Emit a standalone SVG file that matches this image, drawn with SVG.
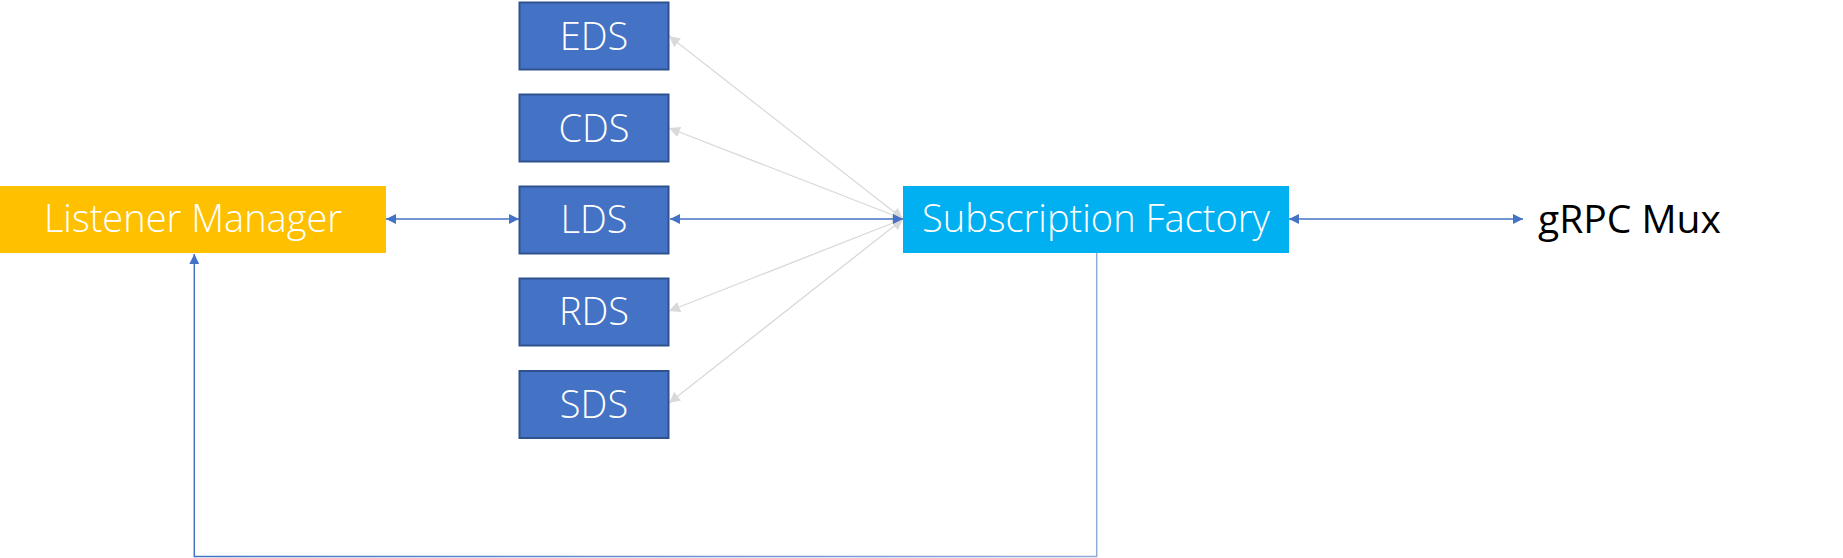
<svg xmlns="http://www.w3.org/2000/svg" width="1843" height="558" viewBox="0 0 1843 558">
<defs>
<style>
.ds rect{fill:#4472C4;stroke:#2F528F;stroke-width:2}
.lbl{font-family:"Open Sans","Noto Sans","Liberation Sans",sans-serif;font-weight:300;font-size:38px;fill:#FFFFFF;text-anchor:middle}
.blue{stroke:#4472C4;stroke-width:1.3;fill:none}
.gray{stroke:#D9D9D9;stroke-width:1.3;fill:none}
</style>
<marker id="ab" viewBox="0 0 10 10" refX="10" refY="5" markerWidth="10" markerHeight="10" markerUnits="userSpaceOnUse" orient="auto-start-reverse"><path d="M0,0 L10,5 L0,10 Z" fill="#4472C4"/></marker>
<marker id="ag" viewBox="0 0 10 10" refX="10" refY="5" markerWidth="11" markerHeight="11" markerUnits="userSpaceOnUse" orient="auto-start-reverse"><path d="M0,0 L10,5 L0,10 Z" fill="#D9D9D9"/></marker>
<linearGradient id="fb" gradientUnits="userSpaceOnUse" x1="194" y1="0" x2="1097" y2="0"><stop offset="0" stop-color="#4472C4"/><stop offset="1" stop-color="#8FAADC"/></linearGradient>
</defs>
<rect width="1843" height="558" fill="#FFFFFF"/>
<g id="connectors">
<line class="gray" x1="669" y1="36" x2="903" y2="219" marker-start="url(#ag)" marker-end="url(#ag)"/>
<line class="gray" x1="669" y1="128" x2="903" y2="219" marker-start="url(#ag)" marker-end="url(#ag)"/>
<line class="gray" x1="669" y1="311" x2="903" y2="219" marker-start="url(#ag)" marker-end="url(#ag)"/>
<line class="gray" x1="669" y1="403" x2="903" y2="219" marker-start="url(#ag)" marker-end="url(#ag)"/>
<line class="blue" x1="386" y1="219" x2="519" y2="219" marker-start="url(#ab)" marker-end="url(#ab)"/>
<line class="blue" x1="670" y1="219" x2="903" y2="219" marker-start="url(#ab)" marker-end="url(#ab)"/>
<line class="blue" x1="1289" y1="219" x2="1523" y2="219" marker-start="url(#ab)" marker-end="url(#ab)"/>
<path d="M1096.7,253 V556.5 H194.3 V254" stroke="url(#fb)" stroke-width="1.5" fill="none" marker-end="url(#ab)"/>
</g>
<g id="listener-manager">
<rect x="0" y="186" width="386" height="67" fill="#FFC000"/>
<text class="lbl" x="193" y="232">Listener Manager</text>
</g>
<g id="eds" class="ds">
<rect x="519.5" y="2.5" width="149" height="67"/>
<text class="lbl" x="594" y="50">EDS</text>
</g>
<g id="cds" class="ds">
<rect x="519.5" y="94.5" width="149" height="67"/>
<text class="lbl" x="594" y="142">CDS</text>
</g>
<g id="lds" class="ds">
<rect x="519.5" y="186.5" width="149" height="67"/>
<text class="lbl" x="594" y="233">LDS</text>
</g>
<g id="rds" class="ds">
<rect x="519.5" y="278.5" width="149" height="67"/>
<text class="lbl" x="594" y="325">RDS</text>
</g>
<g id="sds" class="ds">
<rect x="519.5" y="371" width="149" height="67"/>
<text class="lbl" x="594" y="418">SDS</text>
</g>
<g id="subscription-factory">
<rect x="903" y="186" width="386" height="67" fill="#00B0F0"/>
<text class="lbl" x="1096" y="232">Subscription Factory</text>
</g>
<g id="grpc-mux">
<text x="1538" y="233" font-family="'Open Sans','Noto Sans','Liberation Sans',sans-serif" font-size="39" fill="#000000">gRPC Mux</text>
</g>
</svg>
